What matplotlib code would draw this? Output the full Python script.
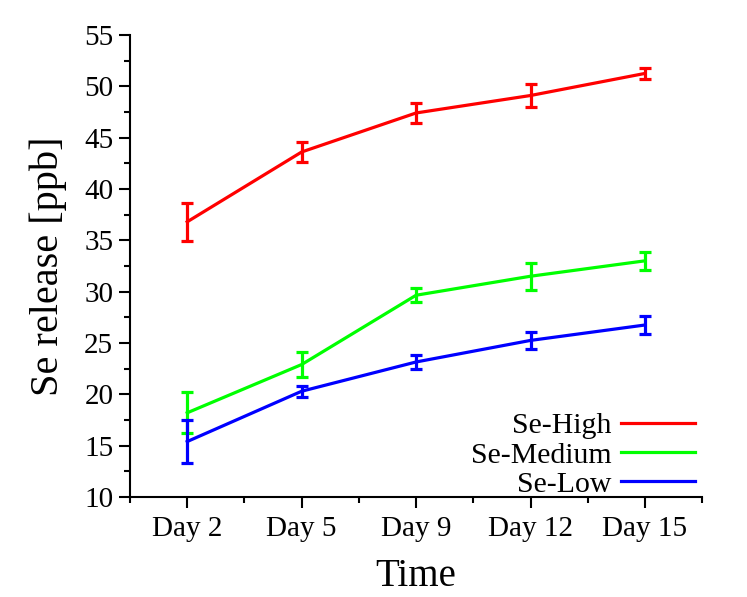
import matplotlib
matplotlib.use("Agg")
import matplotlib.pyplot as plt
from matplotlib.ticker import MultipleLocator, FixedLocator

plt.rcParams['font.family'] = ['Liberation Serif', 'DejaVu Serif']

days = ['Day 2', 'Day 5', 'Day 9', 'Day 12', 'Day 15']

se_high = [36.8, 43.6, 47.4, 49.1, 51.25]
se_high_err = [1.85, 1.0, 1.0, 1.1, 0.55]

se_medium = [18.2, 22.9, 29.65, 31.5, 33.0]
se_medium_err = [2.0, 1.2, 0.7, 1.3, 0.9]

se_low = [15.4, 20.3, 23.15, 25.25, 26.75]
se_low_err = [2.1, 0.55, 0.7, 0.85, 0.9]

fig = plt.figure(figsize=(7.47, 5.97), dpi=100)
ax = fig.add_axes([0.174, 0.1675, 0.766, 0.774])

x = list(range(1, len(days) + 1))
series = [
    (se_high, se_high_err, '#ff0000', 'Se-High'),
    (se_medium, se_medium_err, '#00ff00', 'Se-Medium'),
    (se_low, se_low_err, '#0000ff', 'Se-Low'),
]
handles = []
for vals, errs, col, name in series:
    eb = ax.errorbar(x, vals, yerr=errs, color=col, lw=2.3, elinewidth=2.3,
                     capsize=4.5, capthick=2.3, label=name)
    handles.append(eb.lines[0])

ax.set_xlim(0.5, 5.5)
ax.set_ylim(10, 55)
ax.set_xticks(x)
ax.set_xticklabels(days)
ax.xaxis.set_minor_locator(FixedLocator([0.5, 1.5, 2.5, 3.5, 4.5, 5.5]))
ax.yaxis.set_major_locator(MultipleLocator(5))
ax.yaxis.set_minor_locator(MultipleLocator(2.5))

for side in ['top', 'right']:
    ax.spines[side].set_visible(False)
for side in ['left', 'bottom']:
    ax.spines[side].set_linewidth(1.5)

ax.tick_params(which='major', direction='out', length=8, width=1.5,
               labelsize=21, pad=4)
ax.tick_params(which='minor', direction='out', length=4.5, width=1.5)
ax.tick_params(axis='x', which='major', pad=6)

ax.set_xlabel('Time', fontsize=28, labelpad=11)
ax.set_ylabel('Se release [ppb]', fontsize=29, labelpad=12)

ax.legend(handles=handles, labels=[s[3] for s in series], loc='lower right',
          bbox_to_anchor=(1.035, -0.06), frameon=False, markerfirst=False,
          fontsize=21.5, handlelength=2.5, labelspacing=0.08, handletextpad=0.3)

fig.savefig('out.png', dpi=100)
